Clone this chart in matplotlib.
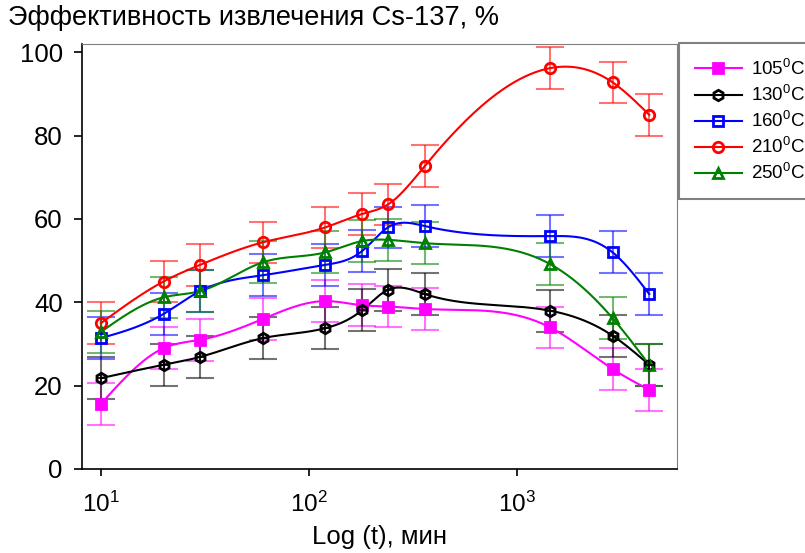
import numpy as np
import matplotlib
matplotlib.use("Agg")
import matplotlib.pyplot as plt

plt.rcParams['font.family'] = ['Liberation Sans', 'DejaVu Sans']
plt.rcParams['mathtext.fontset'] = 'custom'
plt.rcParams['mathtext.rm'] = 'Liberation Sans'
plt.rcParams['mathtext.it'] = 'Liberation Sans:italic'

# время, мин
t = [10, 20, 30, 60, 120, 180, 240, 360, 1440, 2880, 4320]

eff_105 = [15.6, 29.0, 31.0, 36.0, 40.3, 39.3, 39.0, 38.4, 34.0, 24.0, 19.0]
eff_130 = [21.8, 25.0, 26.9, 31.4, 33.8, 38.1, 43.0, 42.0, 38.0, 32.0, 25.0]
eff_160 = [31.4, 37.2, 42.7, 46.5, 49.0, 52.3, 58.0, 58.3, 55.9, 52.0, 42.0]
eff_210 = [35.0, 45.0, 49.0, 54.4, 58.0, 61.2, 63.5, 72.7, 96.2, 92.8, 85.0]
eff_250 = [32.9, 41.2, 42.7, 49.6, 52.0, 54.7, 55.0, 54.2, 49.2, 36.2, 25.0]
err = 5.0

labels = ['105$^0$C', '130$^0$C', '160$^0$C', '210$^0$C', '250$^0$C']


def spline(x, y, n=300):
    # естественный кубический сплайн по log(x), только для гладкой линии
    x = np.log10(np.asarray(x, float))
    y = np.asarray(y, float)
    m = len(x)
    h = np.diff(x)
    A = np.zeros((m, m))
    b = np.zeros(m)
    A[0, 0] = A[-1, -1] = 1
    for i in range(1, m - 1):
        A[i, i - 1] = h[i - 1]
        A[i, i] = 2 * (h[i - 1] + h[i])
        A[i, i + 1] = h[i]
        b[i] = 6 * ((y[i + 1] - y[i]) / h[i] - (y[i] - y[i - 1]) / h[i - 1])
    M = np.linalg.solve(A, b)
    xs = np.linspace(x[0], x[-1], n)
    k = np.clip(np.searchsorted(x, xs) - 1, 0, m - 2)
    x0, x1 = x[k], x[k + 1]
    hh = x1 - x0
    ys = (M[k] * (x1 - xs) ** 3 / (6 * hh) + M[k + 1] * (xs - x0) ** 3 / (6 * hh)
          + (y[k] / hh - M[k] * hh / 6) * (x1 - xs)
          + (y[k + 1] / hh - M[k + 1] * hh / 6) * (xs - x0))
    return 10 ** xs, ys


fig = plt.figure(figsize=(8.05, 5.53), dpi=100)
ax = fig.add_axes([81.5 / 805, 1 - 469 / 553, 595.5 / 805, 425 / 553])

series = [
    (eff_105, '#ff00ff', 's', '#ff00ff', 6.5),
    (eff_130, 'black', 'h', 'none', 7.5),
    (eff_160, '#0000ff', 's', 'none', 7),
    (eff_210, '#ff0000', 'o', 'none', 7.5),
    (eff_250, '#008000', '^', 'none', 7.5),
]

handles = []
for (vals, col, mk, fc, ms), lab in zip(series, labels):
    ax.errorbar(t, vals, yerr=err, fmt='none', ecolor=col, alpha=0.55,
                elinewidth=1.5, capsize=10, capthick=1.5, zorder=2)
    xs, ys = spline(t, vals)
    ax.plot(xs, ys, color=col, lw=1.5, zorder=3)
    ax.plot(t, vals, linestyle='none', marker=mk, ms=ms, mfc=fc, mec=col,
            mew=2, zorder=4)
    if mk == 'h':
        ax.plot(t, vals, linestyle='none', marker='+', ms=ms - 1, mec=col,
                mew=1.2, zorder=5)
    h, = ax.plot([], [], color=col, lw=1.5, marker=mk, ms=ms, mfc=fc,
                 mec=col, mew=2, label=lab)
    handles.append(h)

ax.set_xscale('log')
ax.set_xlim(8.07, 5875)
ax.set_ylim(0, 102)
ax.set_yticks([0, 20, 40, 60, 80, 100])
ax.set_xticks([10, 100, 1000])
ax.xaxis.set_minor_locator(matplotlib.ticker.NullLocator())
ax.tick_params(axis='both', direction='out', width=1.2)
ax.tick_params(axis='y', length=5.5, pad=8, labelsize=18.5)
ax.tick_params(axis='x', length=5, pad=11, labelsize=17.5)
ax.spines['top'].set_color('#808080')
ax.spines['right'].set_color('#808080')
ax.spines['left'].set_linewidth(1.2)
ax.spines['bottom'].set_linewidth(1.2)

ax.set_xlabel('Log (t), мин', fontsize=18.5, va='center')
ax.xaxis.set_label_coords(0.5, (469 - 537) / 425)
fig.text(8 / 805, 1 - 18 / 553, 'Эффективность извлечения Cs-137, %',
         fontsize=19.5, va='center', ha='left')

leg = ax.legend(handles=handles, loc='upper left',
                bbox_to_anchor=(679 / 805, 1 - 43 / 553),
                bbox_transform=fig.transFigure,
                borderaxespad=0, fontsize=13.5, frameon=True, fancybox=False,
                handlelength=2.5, handletextpad=0.5, labelspacing=0.32,
                borderpad=0.85)
leg.get_frame().set_edgecolor('#606060')
leg.get_frame().set_linewidth(1.5)

fig.savefig('out.png', dpi=100)
